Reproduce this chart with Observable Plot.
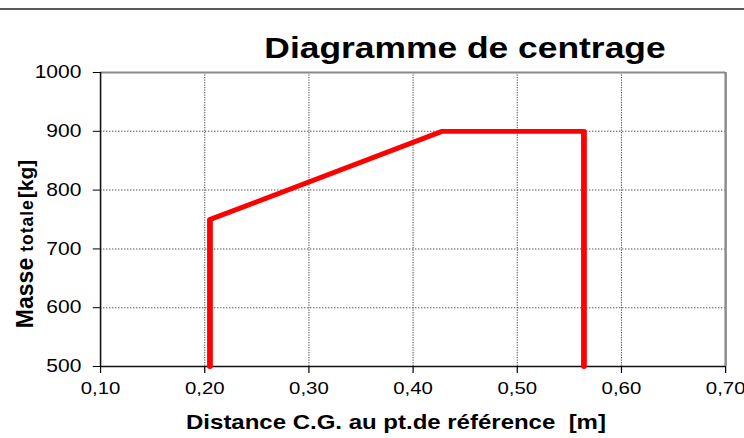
<!DOCTYPE html>
<html>
<head>
<meta charset="utf-8">
<script src="https://cdn.jsdelivr.net/npm/d3@7"></script>
<script src="https://cdn.jsdelivr.net/npm/@observablehq/plot@0.6"></script>
<style>
  html, body { margin: 0; padding: 0; background: white; }
  #chart { position: absolute; left: 0; top: 0; width: 744px; height: 438px; }
  #ylab { position: absolute; left: 0; top: 0; width: 60px; height: 438px; overflow: visible; }
</style>
</head>
<body>
<div id="chart"></div>
<script>
// ---- data ----
const distance = [0.205, 0.205, 0.428, 0.564, 0.564];   // C.G. distance [m]
const masse    = [500, 750, 900, 900, 500];             // total mass [kg]
const xTicks = [0.1, 0.2, 0.3, 0.4, 0.5, 0.6, 0.7];
const yTicks = [500, 600, 700, 800, 900, 1000];
const xGrid = [0.2, 0.3, 0.4, 0.5, 0.6];
const yGrid = [600, 700, 800, 900];
const titleText = "Diagramme de centrage";
const xLabel = "Distance C.G. au pt.de référence  [m]";
const yLabelParts = ["Masse", "totale", "[kg]"];

// ---- chart ----
const W = 620, H = 438, OUTW = 744;
const fmtX = d => d.toFixed(2).replace(".", ",");
const fmtY = d => String(d);
const pts = distance.map((x, i) => ({x, y: masse[i]}));

const plot = Plot.plot({
  width: W, height: H,
  marginLeft: 83.3, marginRight: 15.8, marginTop: 72, marginBottom: 72,
  style: {fontFamily: "'Liberation Sans', Arial, sans-serif", background: "white", color: "black", overflow: "visible"},
  x: {domain: [0.1, 0.7]},
  y: {domain: [500, 1000]},
  marks: [
    Plot.gridX(xGrid, {stroke: "#555", strokeOpacity: 1, strokeWidth: 0.9, strokeDasharray: "1.2,1.3"}),
    Plot.gridY(yGrid, {stroke: "#555", strokeOpacity: 1, strokeWidth: 1, strokeDasharray: "1.2,1.3"}),
    Plot.ruleY([1000], {stroke: "#8a8a8a", strokeWidth: 2}),
    Plot.ruleX([0.7], {stroke: "#8a8a8a", strokeWidth: 2}),
    Plot.ruleX([0.1], {stroke: "#111", strokeWidth: 1.3}),
    Plot.ruleY([500], {stroke: "#111", strokeWidth: 1.5}),
    Plot.axisX(xTicks, {tickSize: 7, tickPadding: 8, fontSize: 17, tickFormat: fmtX, label: null}),
    Plot.axisY(yTicks, {tickSize: 6, tickPadding: 10, fontSize: 17.5, tickFormat: fmtY, label: null}),
    Plot.line(pts, {x: "x", y: "y", stroke: "#ff0000", strokeWidth: 4.8, strokeLinejoin: "round", strokeLinecap: "round"})
  ]
});

const svg = d3.select(plot);
svg.attr("width", OUTW).attr("height", H)
   .attr("viewBox", `0 0 ${W} ${H}`)
   .attr("preserveAspectRatio", "none")
   .style("width", OUTW + "px").style("height", H + "px").style("max-width", "none");

const ff = "'Liberation Sans', Arial, sans-serif";
// top separator line
svg.append("line").attr("x1", 0).attr("x2", W).attr("y1", 9).attr("y2", 9)
   .attr("stroke", "#5a5a5a").attr("stroke-width", 2);
// title
svg.append("text").attr("x", 387.5).attr("y", 58).attr("text-anchor", "middle")
   .attr("font-family", ff).attr("font-weight", "bold").attr("font-size", 29.5)
   .attr("fill", "black").text(titleText);
// x label
svg.append("text").attr("x", 330).attr("y", 429).attr("text-anchor", "middle")
   .attr("font-family", ff).attr("font-weight", "bold").attr("font-size", 20)
   .attr("fill", "black").attr("xml:space", "preserve").style("white-space", "pre").text(xLabel);

document.getElementById("chart").appendChild(plot);

// y label in an unstretched overlay svg
const ysvg = d3.select("body").append("svg").attr("id", "ylab")
  .attr("width", 60).attr("height", H);
const yParts = [
  {t: yLabelParts[0], cy: 293, fs: 23, ls: 0},
  {t: yLabelParts[1], cy: 225.5, fs: 17.5, ls: 1},
  {t: yLabelParts[2], cy: 179, fs: 21, ls: 0}
];
yParts.forEach(p => {
  ysvg.append("text")
    .attr("transform", `translate(33,${p.cy}) rotate(-90)`)
    .attr("text-anchor", "middle")
    .attr("font-family", ff).attr("font-weight", "bold").attr("font-size", p.fs)
    .attr("letter-spacing", p.ls).attr("fill", "black").text(p.t);
});
</script>
</body>
</html>
